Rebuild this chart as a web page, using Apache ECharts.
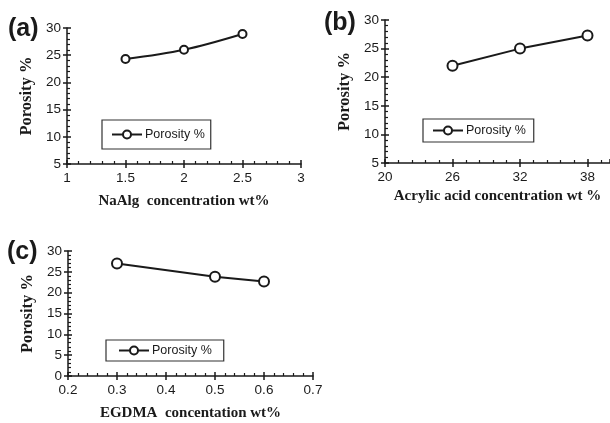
<!DOCTYPE html>
<html>
<head>
<meta charset="utf-8">
<script src="https://cdn.jsdelivr.net/npm/echarts@6/dist/echarts.min.js"></script>
<style>
  html, body { margin: 0; padding: 0; background: #ffffff; }
  #chart { width: 610px; height: 423px; }
</style>
</head>
<body>
<div id="chart"></div>
<script>
// Porosity vs. composition, three panels
const naAlgConc = [1.5, 2, 2.5];
const naAlgPorosity = [24.3, 26.0, 28.9];

const acrylicConc = [26, 32, 38];
const acrylicPorosity = [22.0, 25.0, 27.3];

const egdmaConc = [0.3, 0.5, 0.6];
const egdmaPorosity = [27.0, 23.8, 22.7];

const seriesName = 'Porosity %';
const yName = 'Porosity %';
const xNames = ['NaAlg  concentration wt%', 'Acrylic acid concentration wt %', 'EGDMA  concentation wt%'];
const panelTags = ['(a)', '(b)', '(c)'];

const ink = '#1a1a1a';
const sansFont = 'Liberation Sans, Arial, sans-serif';
const serifFont = 'Liberation Serif, Times New Roman, serif';

const grids = [
  { left: 67, top: 28, width: 234, height: 136 },
  { left: 385, top: 20, width: 230, height: 143 },
  { left: 68, top: 251, width: 245, height: 125 }
];

const xRanges = [
  { min: 1, max: 3, interval: 0.5 },
  { min: 20, max: 40, interval: 6 },
  { min: 0.2, max: 0.7, interval: 0.1 }
];
const yRanges = [
  { min: 5, max: 30, interval: 5 },
  { min: 5, max: 30, interval: 5 },
  { min: 0, max: 30, interval: 5 }
];

const xNameGaps = [30, 26, 30];
const yNameGaps = [32, 32, 32];

const labelStyle = { color: ink, fontFamily: sansFont, fontSize: 13.5 };
const xNameStyle = { color: ink, fontFamily: serifFont, fontSize: 15, fontWeight: 'bold' };
const yNameStyle = { color: ink, fontFamily: serifFont, fontSize: 16.5, fontWeight: 'bold' };

const xAxes = [];
const yAxes = [];
grids.forEach((g, i) => {
  // outward major ticks, labels, axis line
  xAxes.push({
    type: 'value', gridIndex: i, position: 'bottom',
    min: xRanges[i].min, max: xRanges[i].max, interval: xRanges[i].interval,
    name: xNames[i], nameLocation: 'middle', nameGap: xNameGaps[i], nameTextStyle: xNameStyle,
    axisLine: { show: true, onZero: false, lineStyle: { color: ink, width: 1.5 } },
    axisTick: { show: true, inside: false, length: 4, lineStyle: { color: ink, width: 1.5 } },
    axisLabel: Object.assign({ margin: 7, showMaxLabel: i !== 1 }, labelStyle),
    splitLine: { show: false }
  });
  yAxes.push({
    type: 'value', gridIndex: i, position: 'left',
    min: yRanges[i].min, max: yRanges[i].max, interval: yRanges[i].interval,
    name: yName, nameLocation: 'middle', nameGap: yNameGaps[i], nameTextStyle: yNameStyle,
    axisLine: { show: true, onZero: false, lineStyle: { color: ink, width: 1.5 } },
    axisTick: { show: true, inside: false, length: 4, lineStyle: { color: ink, width: 1.5 } },
    axisLabel: Object.assign({ margin: 6 }, labelStyle),
    splitLine: { show: false }
  });
});
grids.forEach((g, i) => {
  // inward major + minor ticks
  xAxes.push({
    type: 'value', gridIndex: i, position: 'bottom',
    min: xRanges[i].min, max: xRanges[i].max, interval: xRanges[i].interval,
    axisLine: { show: false },
    axisTick: { show: true, inside: true, length: 4, lineStyle: { color: ink, width: 1.5 } },
    minorTick: { show: true, splitNumber: 5, length: 3, lineStyle: { color: ink, width: 1.2 } },
    axisLabel: { show: false },
    splitLine: { show: false }
  });
  yAxes.push({
    type: 'value', gridIndex: i, position: 'left',
    min: yRanges[i].min, max: yRanges[i].max, interval: yRanges[i].interval,
    axisLine: { show: false },
    axisTick: { show: true, inside: true, length: 4, lineStyle: { color: ink, width: 1.5 } },
    minorTick: { show: true, splitNumber: 5, length: 3, lineStyle: { color: ink, width: 1.2 } },
    axisLabel: { show: false },
    splitLine: { show: false }
  });
});

const panels = [
  { xs: naAlgConc, ys: naAlgPorosity, size: 8, smooth: 0.35 },
  { xs: acrylicConc, ys: acrylicPorosity, size: 10, smooth: false },
  { xs: egdmaConc, ys: egdmaPorosity, size: 10, smooth: false }
];

const series = panels.map((p, i) => ({
  name: seriesName,
  type: 'line',
  xAxisIndex: i, yAxisIndex: i,
  data: p.xs.map((x, k) => [x, p.ys[k]]),
  smooth: p.smooth,
  symbol: 'circle',
  symbolSize: p.size,
  itemStyle: { color: '#ffffff', borderColor: ink, borderWidth: 2 },
  lineStyle: { color: ink, width: 2 },
  emphasis: { disabled: true },
  animation: false
}));

const legendBoxes = [
  { left: 102, top: 120, padding: [8, 6, 8, 9] },
  { left: 423, top: 119, padding: [5, 8, 5, 9] },
  { left: 106, top: 340, padding: [4, 12, 4, 12] }
];

const legends = legendBoxes.map((b, i) => ({
  left: b.left, top: b.top,
  data: [seriesName],
  seriesIndex: i,
  orient: 'horizontal',
  borderColor: '#333333', borderWidth: 1.2, borderRadius: 0,
  padding: b.padding,
  itemWidth: 30, itemHeight: 10, itemGap: 0,
  textStyle: { color: ink, fontFamily: sansFont, fontSize: 12.5, padding: [0, 0, 0, -2] },
  selectedMode: false
}));

const tagPos = [[8, 17], [324, 11], [7, 240]];
const graphics = panelTags.map((t, i) => ({
  type: 'text', left: tagPos[i][0], top: tagPos[i][1],
  style: { text: t, fill: ink, font: 'bold 25px ' + sansFont }
}));

const chart = echarts.init(document.getElementById('chart'), null, { renderer: 'canvas' });
chart.setOption({
  backgroundColor: '#ffffff',
  animation: false,
  grid: grids.map(g => Object.assign({ containLabel: false }, g)),
  xAxis: xAxes,
  yAxis: yAxes,
  legend: legends,
  graphic: graphics,
  series: series
});
</script>
</body>
</html>
